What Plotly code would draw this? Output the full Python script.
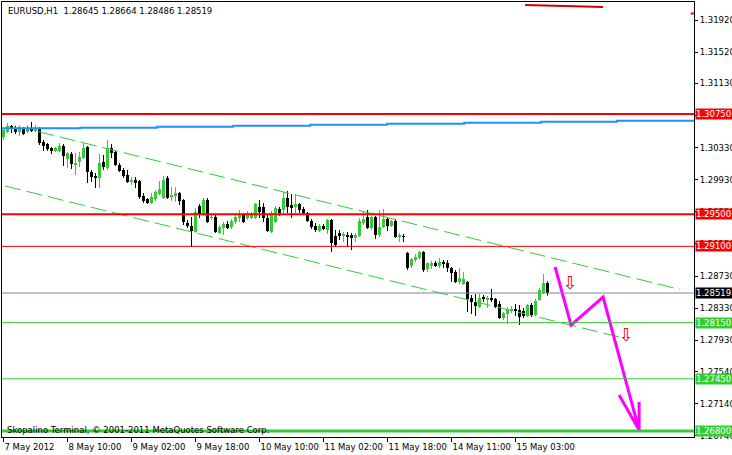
import plotly.graph_objects as go

# ---------------- data ----------------
time_labels = ["7 May 2012", "8 May 10:00", "9 May 02:00", "9 May 18:00", "10 May 10:00",
               "11 May 02:00", "11 May 18:00", "14 May 11:00", "15 May 03:00"]
label_bars = [0, 16, 32, 48, 64, 80, 96, 112, 128]

opens = [1.30463, 1.30525, 1.30600, 1.30575, 1.30525, 1.30563, 1.30525, 1.30575, 1.30538, 1.30563,
         1.30401, 1.30376, 1.30326, 1.30289, 1.30289, 1.30351, 1.30189, 1.30251, 1.30114, 1.30151,
         1.30201, 1.30338, 1.30027, 1.29977, 1.29952, 1.30151, 1.30077, 1.30326, 1.30276, 1.30114,
         1.30052, 1.29989, 1.29902, 1.29927, 1.29915, 1.29728, 1.29690, 1.29640, 1.29690, 1.29753,
         1.29703, 1.29952, 1.29715, 1.29728, 1.29765, 1.29678, 1.29391, 1.29354, 1.29279, 1.29603,
         1.29503, 1.29678, 1.29454, 1.29466, 1.29267, 1.29329, 1.29379, 1.29341, 1.29404, 1.29454,
         1.29491, 1.29454, 1.29454, 1.29454, 1.29591, 1.29591, 1.29454, 1.29279, 1.29404, 1.29566,
         1.29553, 1.29703, 1.29616, 1.29591, 1.29628, 1.29566, 1.29516, 1.29416, 1.29354, 1.29292,
         1.29354, 1.29304, 1.29429, 1.29229, 1.29267, 1.29229, 1.29242, 1.29242, 1.29205, 1.29229,
         1.29391, 1.29466, 1.29329, 1.29466, 1.29242, 1.29341, 1.29441, 1.29354, 1.29416, 1.29217,
         1.29229, 1.29018, 1.28856, 1.28930, 1.28955, 1.29030, 1.28818, 1.28856, 1.28893, 1.28856,
         1.28906, 1.28893, 1.28831, 1.28781, 1.28656, 1.28631, 1.28656, 1.28457, 1.28407, 1.28345,
         1.28457, 1.28432, 1.28457, 1.28445, 1.28382, 1.28208, 1.28258, 1.28295, 1.28320, 1.28307,
         1.28295, 1.28233, 1.28370, 1.28245, 1.28432, 1.28519, 1.28645]
highs = [1.30575, 1.30637, 1.30612, 1.30600, 1.30612, 1.30588, 1.30612, 1.30650, 1.30612, 1.30588,
         1.30426, 1.30388, 1.30338, 1.30338, 1.30388, 1.30376, 1.30276, 1.30276, 1.30264, 1.30276,
         1.30388, 1.30351, 1.30052, 1.30014, 1.30251, 1.30239, 1.30426, 1.30376, 1.30289, 1.30139,
         1.30077, 1.30052, 1.29964, 1.29964, 1.29927, 1.29765, 1.29703, 1.29765, 1.29803, 1.29915,
         1.29977, 1.29977, 1.29840, 1.29840, 1.29778, 1.29690, 1.29429, 1.29466, 1.29578, 1.29628,
         1.29703, 1.29703, 1.29491, 1.29491, 1.29366, 1.29404, 1.29416, 1.29441, 1.29503, 1.29553,
         1.29516, 1.29541, 1.29528, 1.29640, 1.29678, 1.29640, 1.29491, 1.29541, 1.29603, 1.29591,
         1.29778, 1.29790, 1.29753, 1.29753, 1.29640, 1.29591, 1.29528, 1.29441, 1.29391, 1.29379,
         1.29379, 1.29441, 1.29441, 1.29304, 1.29304, 1.29279, 1.29279, 1.29267, 1.29267, 1.29454,
         1.29541, 1.29553, 1.29478, 1.29478, 1.29553, 1.29566, 1.29466, 1.29429, 1.29441, 1.29267,
         1.29254, 1.29030, 1.28955, 1.29005, 1.29043, 1.29043, 1.28906, 1.28918, 1.28918, 1.28955,
         1.28930, 1.28930, 1.28843, 1.28806, 1.28831, 1.28781, 1.28669, 1.28494, 1.28507, 1.28507,
         1.28494, 1.28482, 1.28569, 1.28457, 1.28420, 1.28282, 1.28345, 1.28357, 1.28382, 1.28370,
         1.28332, 1.28382, 1.28395, 1.28445, 1.28581, 1.28756, 1.28664]
lows = [1.30426, 1.30513, 1.30513, 1.30500, 1.30475, 1.30488, 1.30513, 1.30525, 1.30525, 1.30363,
        1.30289, 1.30289, 1.30251, 1.30276, 1.30276, 1.30102, 1.30077, 1.30064, 1.29989, 1.30089,
        1.30189, 1.29890, 1.29902, 1.29827, 1.29827, 1.30052, 1.30052, 1.30201, 1.30102, 1.30027,
        1.29952, 1.29890, 1.29865, 1.29827, 1.29690, 1.29640, 1.29628, 1.29628, 1.29665, 1.29740,
        1.29690, 1.29690, 1.29665, 1.29653, 1.29616, 1.29366, 1.29329, 1.29092, 1.29267, 1.29454,
        1.29478, 1.29391, 1.29429, 1.29267, 1.29254, 1.29242, 1.29317, 1.29317, 1.29379, 1.29404,
        1.29391, 1.29429, 1.29441, 1.29441, 1.29454, 1.29404, 1.29279, 1.29267, 1.29391, 1.29478,
        1.29516, 1.29516, 1.29454, 1.29516, 1.29516, 1.29503, 1.29404, 1.29317, 1.29279, 1.29279,
        1.29304, 1.29254, 1.29030, 1.29092, 1.29180, 1.29155, 1.29092, 1.29055, 1.29155, 1.29217,
        1.29366, 1.29317, 1.29304, 1.29192, 1.29217, 1.29329, 1.29292, 1.29341, 1.29205, 1.29155,
        1.29155, 1.28806, 1.28831, 1.28906, 1.28930, 1.28781, 1.28781, 1.28818, 1.28843, 1.28831,
        1.28831, 1.28781, 1.28656, 1.28644, 1.28631, 1.28619, 1.28282, 1.28258, 1.28233, 1.28332,
        1.28407, 1.28332, 1.28407, 1.28332, 1.28195, 1.28183, 1.28133, 1.28270, 1.28233, 1.28120,
        1.28208, 1.28220, 1.28220, 1.28233, 1.28420, 1.28507, 1.28486]
closes = [1.30550, 1.30600, 1.30575, 1.30525, 1.30588, 1.30500, 1.30588, 1.30538, 1.30575, 1.30388,
          1.30351, 1.30313, 1.30289, 1.30326, 1.30351, 1.30226, 1.30264, 1.30126, 1.30139, 1.30214,
          1.30326, 1.30027, 1.29964, 1.29952, 1.30139, 1.30089, 1.30326, 1.30264, 1.30114, 1.30039,
          1.29977, 1.29902, 1.29927, 1.29890, 1.29715, 1.29665, 1.29640, 1.29715, 1.29778, 1.29815,
          1.29927, 1.29703, 1.29740, 1.29765, 1.29665, 1.29404, 1.29354, 1.29292, 1.29528, 1.29491,
          1.29678, 1.29404, 1.29466, 1.29279, 1.29341, 1.29379, 1.29329, 1.29416, 1.29466, 1.29503,
          1.29404, 1.29516, 1.29503, 1.29628, 1.29528, 1.29454, 1.29292, 1.29516, 1.29578, 1.29516,
          1.29703, 1.29591, 1.29578, 1.29628, 1.29553, 1.29516, 1.29416, 1.29341, 1.29304, 1.29354,
          1.29317, 1.29429, 1.29142, 1.29117, 1.29229, 1.29254, 1.29217, 1.29205, 1.29242, 1.29416,
          1.29441, 1.29329, 1.29466, 1.29242, 1.29341, 1.29441, 1.29354, 1.29416, 1.29217, 1.29242,
          1.29217, 1.28831, 1.28943, 1.28968, 1.29030, 1.28806, 1.28893, 1.28893, 1.28856, 1.28906,
          1.28881, 1.28831, 1.28768, 1.28656, 1.28706, 1.28693, 1.28445, 1.28407, 1.28357, 1.28457,
          1.28445, 1.28457, 1.28432, 1.28345, 1.28208, 1.28270, 1.28320, 1.28320, 1.28295, 1.28220,
          1.28233, 1.28370, 1.28245, 1.28420, 1.28557, 1.28645, 1.28519]

# regular price-scale ticks
price_ticks = [1.3192, 1.3152, 1.3113, 1.3073, 1.3033, 1.2993, 1.2953, 1.2913,
               1.2873, 1.2833, 1.2793, 1.2754, 1.2714, 1.2674]

# horizontal level objects
levels = [1.3075, 1.2950, 1.2910, 1.2815, 1.2745, 1.2680]
level_colors = ["#FF0000", "#FF0000", "#FF0000", "#32CD32", "#32CD32", "#32CD32"]
level_widths = [2, 2, 1, 1, 1, 3]

# moving average (stepped, blue)
ma_x = [-0.375, 19.2, 38.4, 57.4, 76.7, 95.9, 115.2, 134.4, 153.4, 172.625]
ma_y = [1.30571, 1.30579, 1.30591, 1.30604, 1.30616, 1.30629, 1.30641, 1.30654, 1.30666, 1.30666]

# channel trend lines (bar index, price)
upper_x = [8.7, 169.2]
upper_y = [1.30529, 1.28563]
lower_x = [0.4, 154.7]
lower_y = [1.29852, 1.27961]

# red trendline at top
red_x = [130.4, 149.9]
red_y = [1.32108, 1.32083]
red_mark_x = [171.8, 172.6]
red_mark_y = [1.32002, 1.32002]

# magenta projected path + arrow head
path_x = [137.9, 141.9, 149.9, 158.9]
path_y = [1.28843, 1.28120, 1.28469, 1.26812]
head_x = [[153.9, 158.9], [158.9, 158.9]]
head_y = [[1.27248, 1.26812], [1.27161, 1.26812]]

# sell arrows
arrow_x = [141.7, 155.7]
arrow_y = [1.28619, 1.27983]

header = "EURUSD,H1  1.28645 1.28664 1.28486 1.28519"
footer = "Skopalino Terminal, © 2001-2011 MetaQuotes Software Corp."

GREEN = "#32CD32"
FONT = "DejaVu Sans"
FS = 8.5

# ---------------- figure ----------------
idx = list(range(len(opens)))
bull = [c >= o for o, c in zip(opens, closes)]
colors = [GREEN if b else "#000000" for b in bull]

fig = go.Figure()

# wicks
for want, col in [(True, GREEN), (False, "#000000")]:
    wx, wy = [], []
    for i in idx:
        if bull[i] == want:
            wx += [i, i, None]
            wy += [lows[i], highs[i], None]
    fig.add_trace(go.Scatter(x=wx, y=wy, mode="lines", line=dict(color=col, width=1),
                             hoverinfo="skip"))

# bodies
fig.add_trace(go.Bar(x=idx, y=[abs(c - o) for o, c in zip(opens, closes)],
                     base=[min(o, c) for o, c in zip(opens, closes)],
                     width=0.75, marker=dict(color=colors, line=dict(width=0)),
                     hoverinfo="skip"))

# moving average
fig.add_trace(go.Scatter(x=ma_x, y=ma_y, mode="lines", line=dict(color="#1E90FF", width=2, shape="hv"),
                         hoverinfo="skip"))

# channel
for xs, ys in [(upper_x, upper_y), (lower_x, lower_y)]:
    fig.add_trace(go.Scatter(x=xs, y=ys, mode="lines",
                             line=dict(color=GREEN, width=1, dash="16px,6px"), hoverinfo="skip"))

# red top trendline
fig.add_trace(go.Scatter(x=red_x, y=red_y, mode="lines", line=dict(color="#CC0000", width=2),
                         hoverinfo="skip"))
fig.add_trace(go.Scatter(x=red_mark_x, y=red_mark_y, mode="lines", line=dict(color="#FF0000", width=2),
                         hoverinfo="skip"))

# magenta path
mx = list(path_x) + [None]
my = list(path_y) + [None]
for hx, hy in zip(head_x, head_y):
    mx += hx + [None]
    my += hy + [None]
fig.add_trace(go.Scatter(x=mx, y=my, mode="lines", line=dict(color="#FF00FF", width=3),
                         hoverinfo="skip"))

# sell arrows
fig.add_trace(go.Scatter(x=arrow_x, y=arrow_y, mode="text", text=["⇩", "⇩"],
                         textfont=dict(family=FONT, size=18, color="#FF0000"),
                         textposition="middle center", hoverinfo="skip"))

shapes = []
annotations = []
for lv, col, w in zip(levels, level_colors, level_widths):
    shapes.append(dict(type="line", xref="paper", x0=0, x1=1, yref="y", y0=lv, y1=lv,
                       line=dict(color=col, width=w), layer="above"))
    annotations.append(dict(xref="paper", x=1, xanchor="left", xshift=1, yref="y", y=lv,
                            yanchor="middle", text=f"{lv:.5f}", showarrow=False,
                            bgcolor=col, font=dict(family=FONT, size=FS, color="#FFFFFF"),
                            width=40, align="left", borderpad=0))
bid = closes[-1]
shapes.append(dict(type="line", xref="paper", x0=0, x1=1, yref="y", y0=bid, y1=bid,
                   line=dict(color="#778899", width=1), layer="above"))
annotations.append(dict(xref="paper", x=1, xanchor="left", xshift=1, yref="y", y=bid,
                        yanchor="middle", text=f"{bid:.5f}", showarrow=False,
                        bgcolor="#000000", font=dict(family=FONT, size=FS, color="#FFFFFF"),
                        width=40, align="left", borderpad=0))

annotations.append(dict(xref="paper", yref="paper", x=0, y=1, xanchor="left", yanchor="middle",
                        xshift=4, yshift=-9, text=header, showarrow=False,
                        font=dict(family=FONT, size=FS, color="#000000")))
annotations.append(dict(xref="paper", yref="paper", x=0, y=0, xanchor="left", yanchor="middle",
                        xshift=3, yshift=7, text=footer, showarrow=False,
                        font=dict(family=FONT, size=FS, color="#000000")))

fig.update_layout(
    width=732, height=455,
    margin=dict(l=2, r=38, t=2, b=18, pad=0, autoexpand=False),
    paper_bgcolor="#FFFFFF", plot_bgcolor="#FFFFFF",
    showlegend=False,
    font=dict(family=FONT, size=FS, color="#000000"),
    shapes=shapes, annotations=annotations,
    bargap=0,
    xaxis=dict(range=[-0.375, 172.625], tickvals=label_bars, ticktext=time_labels,
               ticks="outside", ticklen=4, tickwidth=1, tickcolor="#000000",
               showline=True, linecolor="#000000", linewidth=1, mirror=True,
               showgrid=False, zeroline=False, ticklabelposition="outside right",
               ticklabelstandoff=2,
               tickangle=0, automargin=False,
               tickfont=dict(family=FONT, size=FS, color="#000000"), fixedrange=True),
    yaxis=dict(range=[1.26725, 1.32145], side="right", tickvals=price_ticks,
               ticktext=[f"{v:.5f}" for v in price_ticks],
               ticks="outside", ticklen=3, tickwidth=1, tickcolor="#000000",
               showline=True, linecolor="#000000", linewidth=1, mirror=True,
               showgrid=False, zeroline=False, automargin=False,
               tickfont=dict(family=FONT, size=FS, color="#000000"), fixedrange=True),
)

fig.write_html("out.html", config={"displayModeBar": False},
               post_script="document.body.style.margin='0';document.body.style.padding='0';")
